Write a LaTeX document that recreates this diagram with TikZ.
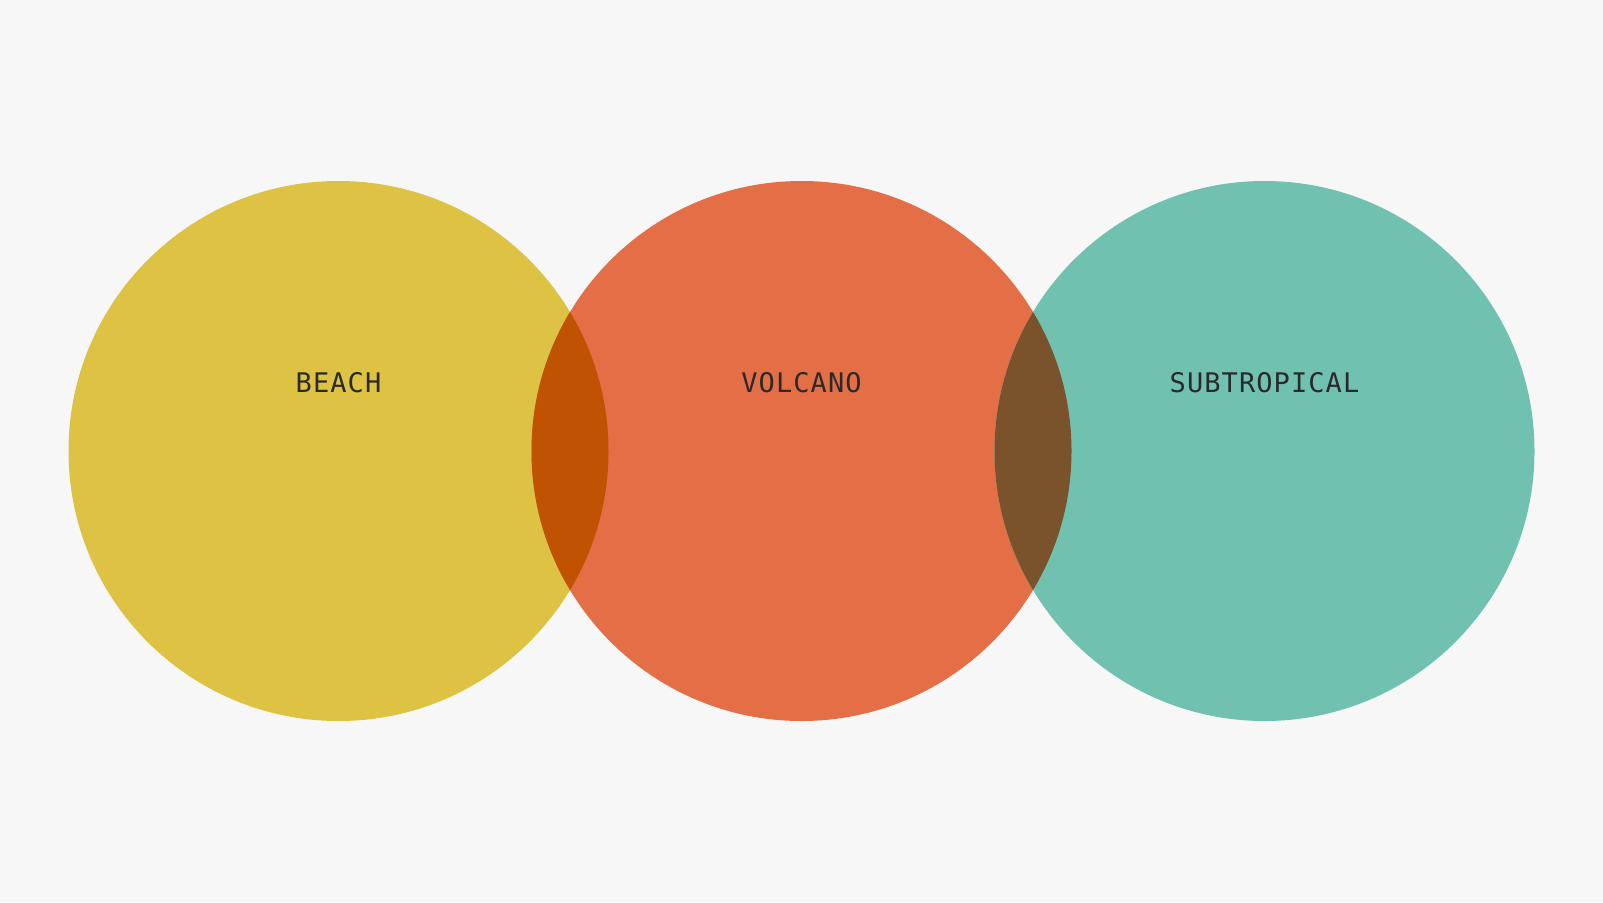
\documentclass[tikz,border=0pt]{standalone}
\usepackage{fontspec}
\setmonofont[LetterSpace=4]{DejaVu Sans Mono}
\usetikzlibrary{positioning}
\definecolor{bgwhite}{HTML}{F7F7F7}
\definecolor{beachyellow}{HTML}{DDC243}
\definecolor{volcanored}{HTML}{E46E46}
\definecolor{tropicteal}{HTML}{70C1B0}
\definecolor{lensone}{HTML}{C05301}
\definecolor{lenstwo}{HTML}{7A522C}
\definecolor{labelgray}{HTML}{2A2A2A}

\begin{document}
\begin{tikzpicture}[
			x=1pt, y=-1pt,
			setcircle/.style={circle, minimum size=540pt, inner sep=0pt},
			setlabel/.style={font=\ttfamily\fontsize{27}{27}\selectfont, text=labelgray}
		]
		% Background
		\fill[bgwhite] (0,0) rectangle (1603,902);
		\useasboundingbox (0,0) rectangle (1603,902);
		
		% Sets
		\node[setcircle, fill=beachyellow] (beach) at (338.5,451) {};
		\node[setcircle, fill=volcanored] (volcano) at (801.5,451) {};
		\node[setcircle, fill=tropicteal] (subtropical) at (1264.5,451) {};
		
		% Overlaps
		\begin{scope}
			\clip (beach.center) circle (270);
			\fill[lensone] (volcano.center) circle (270);
		\end{scope}
		\begin{scope}
			\clip (volcano.center) circle (270);
			\fill[lenstwo] (subtropical.center) circle (270);
		\end{scope}
		
		% Labels
		\node[setlabel] (beachlabel) at ([yshift=68.5pt]beach.center) {BEACH};
		\node[setlabel] (volcanolabel) at ([yshift=68.5pt]volcano.center) {VOLCANO};
		\node[setlabel] (tropiclabel) at ([yshift=68.5pt]subtropical.center) {SUBTROPICAL};
		\end{tikzpicture}
\end{document}
